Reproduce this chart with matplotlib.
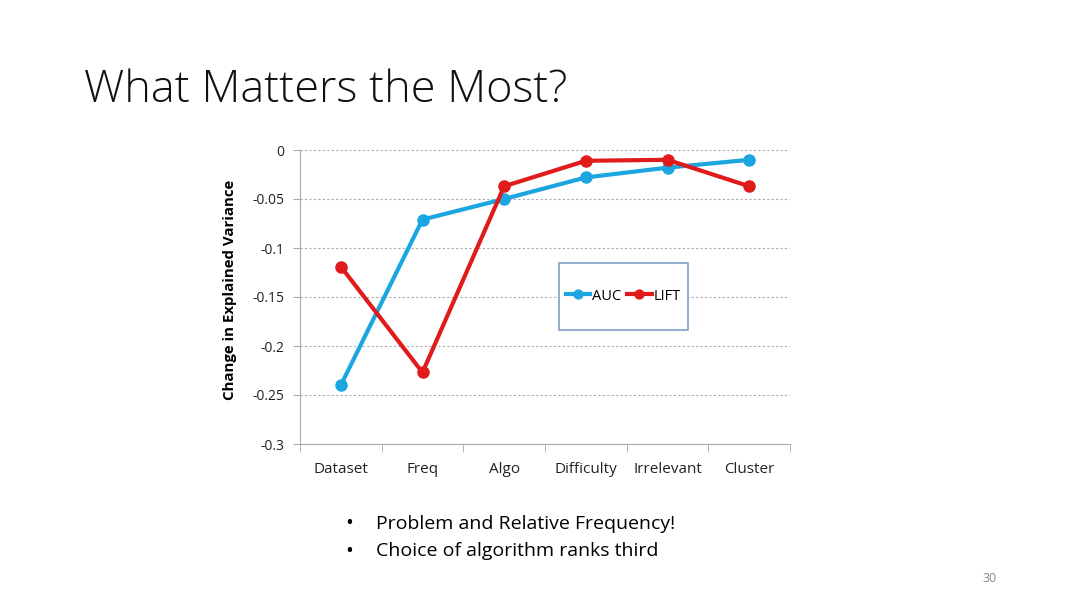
import matplotlib
matplotlib.use("Agg")
import matplotlib.pyplot as plt
from matplotlib.patches import Rectangle
import numpy as np

categories = ["Dataset", "Freq", "Algo", "Difficulty", "Irrelevant", "Cluster"]
auc = [-0.240, -0.071, -0.050, -0.028, -0.018, -0.010]
lift = [-0.119, -0.227, -0.037, -0.011, -0.010, -0.037]
yticks = [0, -0.05, -0.1, -0.15, -0.2, -0.25, -0.3]
ytick_labels = ["0", "-0.05", "-0.1", "-0.15", "-0.2", "-0.25", "-0.3"]

plt.rcParams['font.family'] = ['Open Sans', 'DejaVu Sans']

fig = plt.figure(figsize=(10.8, 6.07), dpi=100)
fig.patch.set_facecolor("white")

fig.text(84/1080, 1 - 91/607, "What Matters the Most?", fontsize=32.5, fontweight="light",
         color="#111111", va="center", ha="left")

ax = fig.add_axes([300/1080, 1 - 444/607, 490/1080, 294/607])
x = np.arange(len(categories))
ax.plot(x, auc, color="#1BA6E0", lw=3, marker="o", ms=8, label="AUC", zorder=3)
ax.plot(x, lift, color="#E01B1B", lw=3, marker="o", ms=8, label="LIFT", zorder=4)

ax.set_xlim(-0.5, len(categories) - 0.5)
ax.set_ylim(-0.3, 0)
ax.set_yticks(yticks)
ax.set_yticklabels(ytick_labels)
ax.set_xticks(x)
ax.set_xticklabels(categories)
ax.tick_params(axis="x", length=0, pad=13, labelsize=11, colors="#222222")
ax.set_xticks(np.arange(-0.5, len(categories)), minor=True)
ax.tick_params(axis="x", which="minor", length=6, color="#AAAAAA", direction="out")
ax.tick_params(axis="y", length=5, color="#AAAAAA", labelsize=10, colors="#222222", pad=6)
ax.yaxis.grid(True, linestyle=(0, (2, 2)), color="#AAAAAA", lw=0.8)
ax.set_axisbelow(True)
for s in ["top", "right"]:
    ax.spines[s].set_visible(False)
for s in ["left", "bottom"]:
    ax.spines[s].set_color("#AAAAAA")
ax.set_ylabel("Change in Explained Variance", fontsize=10.8, fontweight="bold")
ax.yaxis.set_label_coords(-0.128, 0.525)

# legend box (rectangle in figure coords) and legend entries on top
ax.add_patch(Rectangle((559/1080, 1 - 330/607), 129/1080, 67/607,
                       transform=fig.transFigure, facecolor="white",
                       edgecolor="#7F9FC6", lw=1.2, zorder=5, clip_on=False))
leg = ax.legend(loc="center", bbox_to_anchor=((623-300)/490, (444-296)/294), ncol=2,
                frameon=False, fontsize=10.5, handlelength=1.7,
                handletextpad=0.1, columnspacing=0.4, markerscale=0.8)
leg.set_zorder(10)

fig.text(345/1080, 1 - 524/607, "•", fontsize=15, va="center", ha="left")
fig.text(376/1080, 1 - 524/607, "Problem and Relative Frequency!", fontsize=14, va="center", ha="left")
fig.text(345/1080, 1 - 551/607, "•", fontsize=15, va="center", ha="left")
fig.text(376/1080, 1 - 551/607, "Choice of algorithm ranks third", fontsize=14, va="center", ha="left")
fig.text(990/1080, 1 - 578/607, "30", fontsize=9, color="#888888", va="center", ha="center")

fig.savefig("out.png", dpi=100, facecolor="white")
